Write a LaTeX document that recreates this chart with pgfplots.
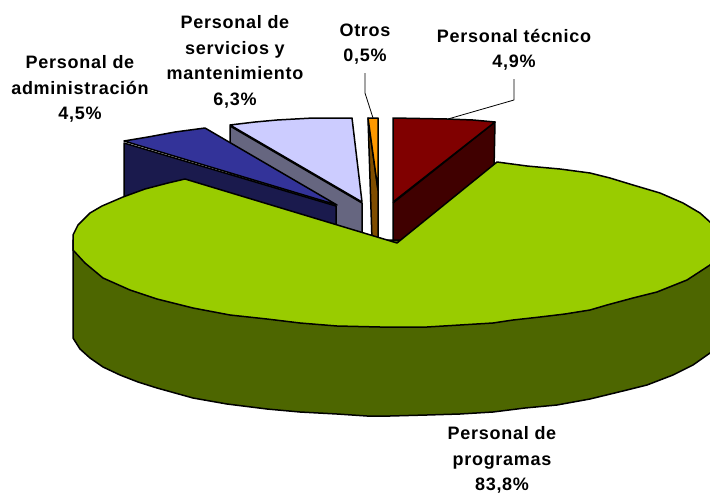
\documentclass[border=0pt]{standalone}
\usepackage{pgfplots}
\pgfplotsset{compat=1.18}
\usepackage{fontspec}
\setmainfont[LetterSpace=4]{Liberation Sans}
\definecolor{cGreen}{HTML}{99CC00}
\definecolor{cGreenD}{HTML}{4D6600}
\definecolor{cRed}{HTML}{800000}
\definecolor{cRedD}{HTML}{400000}
\definecolor{cBlue}{HTML}{333399}
\definecolor{cBlueD}{HTML}{1A1A4D}
\definecolor{cLav}{HTML}{CCCCFF}
\definecolor{cLavD}{HTML}{666680}
\definecolor{cOr}{HTML}{FF9900}
\definecolor{cOrD}{HTML}{804D00}
\begin{document}
\begin{tikzpicture}
\useasboundingbox (0,0) rectangle (710pt,493pt);
\begin{axis}[
  at={(0,0)}, anchor=south west,
  scale only axis, width=710pt, height=493pt,
  xmin=0, xmax=710, ymin=0, ymax=493, y dir=reverse,
  hide axis, clip=true,
  every axis plot/.append style={line width=1.5pt, draw=black, line join=round},
]
% leader lines
\addplot[line width=0.8pt] coordinates {(365,73) (365,93) (373,118)};
\addplot[line width=0.8pt] coordinates {(514,79) (514,100) (448,119)};
% lavender slice: side, then top
\addplot[fill=cLavD] coordinates {(230,126) (362,203) (362,240) (230,180)} -- cycle;
\addplot[fill=cLav] coordinates {(230,125) (255,122) (277,120) (313,118) (352,118) (362,202)} -- cycle;
% blue slice: side, top
\addplot[fill=cBlueD] coordinates {(124,143) (336,206) (336,240) (124,210)} -- cycle;
\addplot[fill=cBlue] coordinates {(124,141) (148,137) (175,132) (205,128) (337,205)} -- cycle;
% orange slice
\addplot[fill=cOrD] coordinates {(368,118) (378,190) (378,240) (372,240)} -- cycle;
\addplot[fill=cOr] coordinates {(368,118) (378,118) (378,190)} -- cycle;
% red slice
\addplot[fill=cRedD] coordinates {(495,122) (393,203) (393,243) (397,243) (494,170)} -- cycle;
\addplot[fill=cRed] coordinates {(393,118) (447,119) (473,120) (495,122) (393,202)} -- cycle;
% green slice: outer side
\addplot[fill=cGreenD] coordinates {
 (73,240) (73,338) (80,349) (90,358) (103,367) (120,375) (138,382) (157,388) (175,393) (193,398)
 (227,404) (267,409) (300,412) (337,414) (367,416) (390,416) (427,415) (460,414) (493,412)
 (525,408) (557,405) (590,399) (627,390) (647,385) (673,375) (693,365) (710,353) (722,344) (722,240)} -- cycle;
% green slice: top
\addplot[fill=cGreen] coordinates {
 (397,243) (497,162) (527,166) (560,169) (590,173) (610,178) (633,185) (660,193) (683,203)
 (700,213) (710,222) (722,232) (722,252) (710,265) (687,280) (657,292) (633,298) (607,305)
 (590,310) (565,314) (540,317) (513,320) (493,323) (460,325) (427,327) (380,327) (337,326)
 (300,323) (267,319) (230,315) (193,308) (157,299) (130,290) (103,278) (85,263) (73,250)
 (73,235) (78,225) (90,213) (102,206) (123,197) (145,189) (168,183) (185,179)} -- cycle;
% labels
\tikzset{lab/.style={align=center, font=\fontsize{18}{25.5}\selectfont\bfseries, text=black}}
\node[lab] at (axis cs:80,89) {Personal de\\administración\\4,5\%};
\node[lab] at (axis cs:235,62) {Personal de\\servicios y\\mantenimiento\\6,3\%};
\node[lab] at (axis cs:365,44) {Otros\\0,5\%};
\node[lab] at (axis cs:514,50) {Personal técnico\\4,9\%};
\node[lab] at (axis cs:502,460) {Personal de\\programas\\83,8\%};
\end{axis}
\end{tikzpicture}
\end{document}
